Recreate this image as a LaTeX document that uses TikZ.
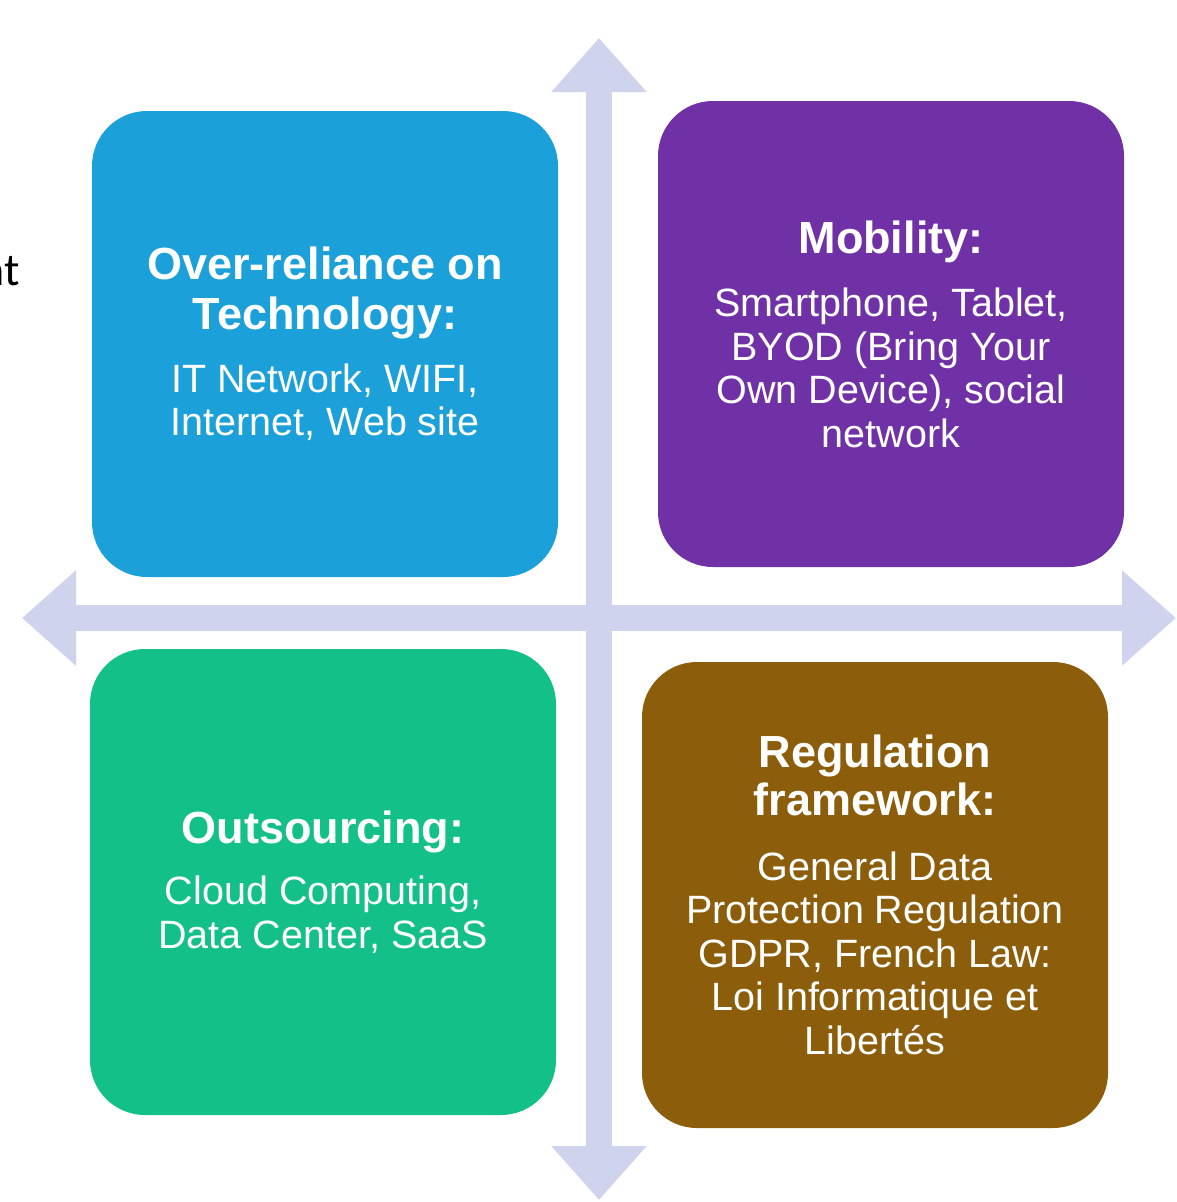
\documentclass[tikz,border=0pt]{standalone}
\usepackage{fontspec}
\setmainfont{Liberation Sans}
\newfontfamily\cutfont{Carlito}
\usetikzlibrary{arrows.meta}
\definecolor{techblue}{HTML}{1BA0DA}
\definecolor{mobpurple}{HTML}{7131A6}
\definecolor{outgreen}{HTML}{14C08A}
\definecolor{regbrown}{HTML}{8C5E0B}
\definecolor{axislilac}{HTML}{CFD3EE}
\newcommand{\hfont}{\bfseries\fontsize{45}{50}\selectfont}
\newcommand{\bfont}{\mdseries\fontsize{39.5}{43.5}\selectfont}

\begin{document}
\begin{tikzpicture}[x=1pt,y=-1pt,
  quad/.style={fill=#1,rounded corners=55pt,minimum width=466pt,minimum height=466pt,
    inner sep=0pt,text width=450pt,align=flush center,text=white,font=\bfont},
  axis/.style={draw=axislilac,line width=26pt,
    {Triangle[length=54pt,width=92pt]}-{Triangle[length=54pt,width=92pt]}}]
\useasboundingbox (0,0) rectangle (1176,1202);

% the two crossing axes
\coordinate (top) at (599,38);
\coordinate (bottom) at (599,1200);
\coordinate (left) at (22,618);
\coordinate (right) at (1176,618);
\draw[axis] (top)--(bottom);
\draw[axis] (left)--(right);

% the four quadrants
\node[quad=techblue] (tech) at (325,344)
  {\hfont Over-reliance on\\Technology:\\[19pt]\bfont IT Network, WIFI,\\Internet, Web site};
\node[quad=mobpurple] (mob) at (891,334)
  {\hfont Mobility:\\[20pt]\bfont Smartphone, Tablet,\\BYOD (Bring Your\\Own Device), social\\network};
\node[quad=outgreen] (out) at (323,882)
  {\hfont Outsourcing:\\[18pt]\bfont Cloud Computing,\\Data Center, SaaS};
\node[quad=regbrown] (reg) at (875,895)
  {\hfont Regulation\\[-2pt]framework:\\[21pt]\bfont General Data\\Protection Regulation\\GDPR, French Law:\\Loi Informatique et\\Libert\'es};

\node[anchor=base east,font=\cutfont\fontsize{46}{48}\selectfont] (cut) at (23,285) {nt};
\end{tikzpicture}
\end{document}
